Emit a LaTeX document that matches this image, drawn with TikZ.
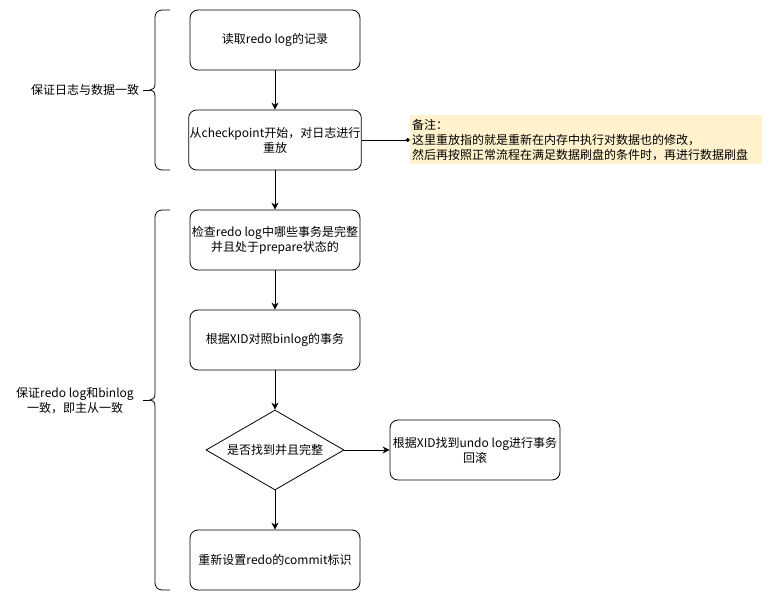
\documentclass[tikz,border=0pt]{standalone}
\usepackage{fontspec}
\setmainfont{Noto Sans CJK SC}
\usetikzlibrary{shapes.geometric, arrows.meta, positioning}
\definecolor{notefill}{HTML}{FFF2CC}
\tikzstyle{process} = [
  rectangle,
  rounded corners=8pt,
  minimum width=170pt,
  minimum height=60pt,
  inner sep=1pt,
  align=center,
  draw=black,
  line width=0.8pt,
  font=\fontsize{12}{15}\selectfont
]
\tikzstyle{decision} = [
  diamond,
  aspect=1.725,
  minimum width=138pt,
  minimum height=80pt,
  inner sep=0pt,
  align=center,
  draw=black,
  line width=0.8pt,
  font=\fontsize{12}{15}\selectfont
]
\tikzstyle{note} = [
  rectangle,
  minimum width=352pt,
  minimum height=49pt,
  inner sep=2pt,
  text width=348pt,
  align=left,
  fill=notefill,
  font=\fontsize{12}{15}\selectfont
]
\tikzstyle{label} = [align=center, font=\fontsize{12}{15}\selectfont]
\tikzstyle{arrow} = [line width=0.8pt, -{Stealth[length=7pt,width=7pt]}]
\tikzstyle{brace} = [line width=0.8pt, rounded corners=7pt]

\begin{document}
\begin{tikzpicture}[x=1pt, y=-1pt, node distance=100pt]
    \useasboundingbox (0,0) rectangle (771,601);

    \node (read-redo) [process] at (275,40) {读取redo log的记录};
    \node (replay) [process, below of=read-redo] {从checkpoint开始，对日志进行\\重放};
    \node (check-prepare) [process, below of=replay] {检查redo log中哪些事务是完整\\并且处于prepare状态的};
    \node (match-binlog) [process, below of=check-prepare] {根据XID对照binlog的事务};
    \node (found) [decision, below of=match-binlog, yshift=-10pt] {是否找到并且完整};
    \node (rollback) [process, right of=found, xshift=100pt] {根据XID找到undo log进行事务\\回滚};
    \node (set-commit) [process, below of=found, yshift=-10pt] {重新设置redo的commit标识};
    \node (remark) [note, right of=replay, xshift=211pt] {备注：\\这里重放指的就是重新在内存中执行对数据也的修改，\\然后再按照正常流程在满足数据刷盘的条件时，再进行数据刷盘};

    \node (group-log) [label] at (85,90) {保证日志与数据一致};
    \node (group-binlog) [label] at (75,401) {保证redo log和binlog\\一致，即主从一致};

    \draw [arrow] (read-redo) -- (replay);
    \draw [arrow] (replay) -- (check-prepare);
    \draw [arrow] (check-prepare) -- (match-binlog);
    \draw [arrow] (match-binlog) -- (found);
    \draw [arrow] (found) -- (rollback);
    \draw [arrow] (found) -- (set-commit);
    \draw [line width=0.8pt, -{Circle[length=4pt]}] (replay.east) -- (remark.west);

    % braces
    \draw [brace] (170,10) -- (155,10) -- (155,84);
    \draw [line width=0.8pt] (155,84) .. controls (155,88) and (153,90) .. (150,90)
      .. controls (153,90) and (155,92) .. (155,96);
    \draw [brace] (155,96) -- (155,170) -- (170,170);
    \draw [line width=0.8pt] (150,90) -- (143,90);

    \draw [brace] (170,210) -- (155,210) -- (155,394);
    \draw [line width=0.8pt] (155,394) .. controls (155,398) and (153,400) .. (150,400)
      .. controls (153,400) and (155,402) .. (155,406);
    \draw [brace] (155,406) -- (155,590) -- (170,590);
    \draw [line width=0.8pt] (150,400) -- (143,400);
\end{tikzpicture}
\end{document}
